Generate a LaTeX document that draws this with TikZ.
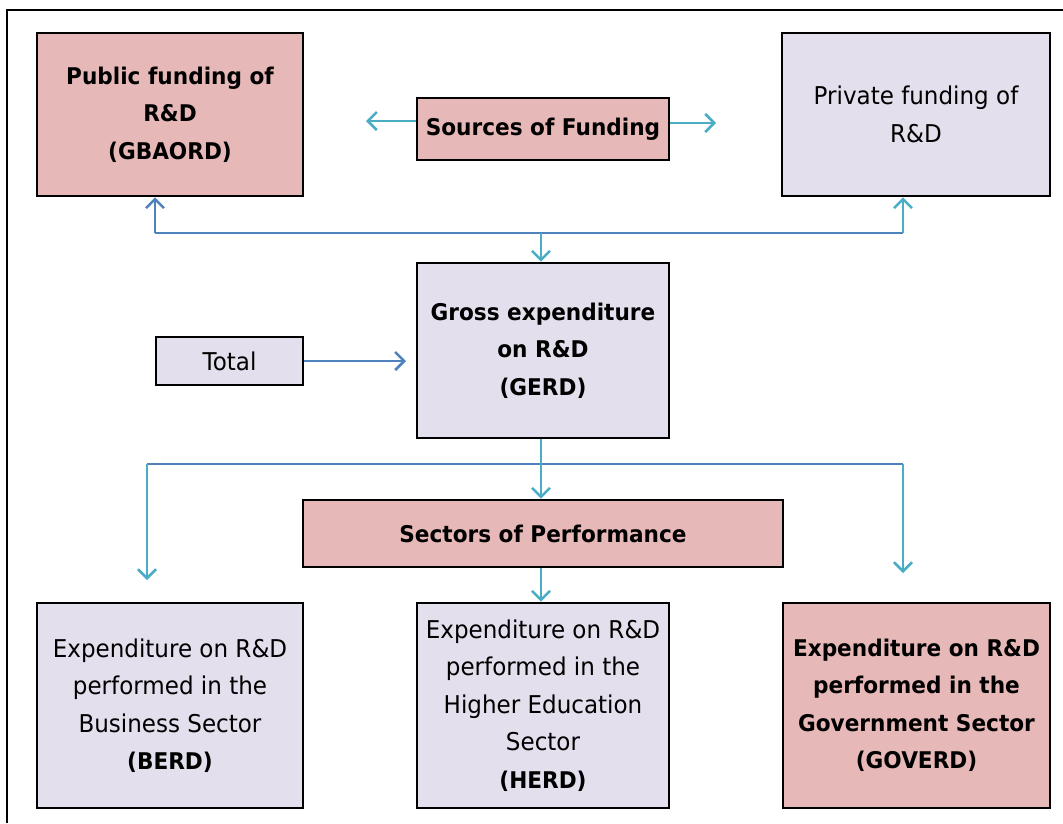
\documentclass[tikz,border=0pt]{standalone}
\usepackage{fontspec}
\setmainfont[FakeStretch=0.94]{DejaVu Sans}
\usetikzlibrary{arrows.meta}
\definecolor{pinkfill}{HTML}{E6B8B7}
\definecolor{lavfill}{HTML}{E4DFEC}
\definecolor{arrowteal}{HTML}{4BACC6}
\definecolor{lineblue}{HTML}{4F81BD}
\begin{document}
\begin{tikzpicture}[x=1pt,y=-1pt,
  box/.style={draw=black, line width=2.6pt, align=center, inner sep=0pt,
              font=\fontsize{24.5}{37.5}\selectfont},
  boldbox/.style={box, font=\fontsize{23}{37.5}\selectfont\bfseries},
  pinkfl/.style={fill=pinkfill},
  lavfl/.style={fill=lavfill},
  conn/.style={line width=2.6pt, draw=arrowteal, -{Straight Barb[length=9pt,width=18pt]}},
  bconn/.style={line width=2.6pt, draw=lineblue, -{Straight Barb[length=9pt,width=18pt]}},
  bline/.style={line width=2.8pt, draw=lineblue}]
\useasboundingbox (0,0) rectangle (1063,823);
\draw[line width=2.6pt] (7,823) -- (7,10) -- (1063,10);

\node[boldbox, pinkfl, minimum width=266pt, minimum height=163pt] (pub) at (170,114.5)
  {Public funding of\\R\&D\\(GBAORD)};
\node[boldbox, pinkfl, minimum width=252pt, minimum height=62pt] (src) at (543,129)
  {Sources of Funding};
\node[box, lavfl, minimum width=268pt, minimum height=163pt] (priv) at (916,114.5)
  {Private funding of\\R\&D};
\node[boldbox, lavfl, minimum width=252pt, minimum height=175pt] (gerd) at (543,350.5)
  {Gross expenditure\\on R\&D\\(GERD)};
\node[box, lavfl, minimum width=147pt, minimum height=48pt] (total) at (229.5,361)
  {Total};
\node[boldbox, pinkfl, minimum width=480pt, minimum height=67pt] (sect) at (543,533.5)
  {Sectors of Performance};
\node[box, lavfl, minimum width=266pt, minimum height=205pt] (berd) at (170,705.5)
  {Expenditure on R\&D\\performed in the\\Business Sector\\{\fontsize{23}{37.5}\selectfont\bfseries (BERD)}};
\node[box, lavfl, minimum width=252pt, minimum height=205pt] (herd) at (543,705.5)
  {Expenditure on R\&D\\performed in the\\Higher Education\\Sector\\{\fontsize{23}{37.5}\selectfont\bfseries (HERD)}};
\node[boldbox, pinkfl, minimum width=267pt, minimum height=205pt] (gov) at (916.5,705.5)
  {Expenditure on R\&D\\performed in the\\Government Sector\\(GOVERD)};

% sources arrows
\coordinate (srcL) at (366,121);
\coordinate (srcR) at (716,123);
\draw[conn] (srcL -| src.west) -- (srcL);
\draw[conn] (srcR -| src.east) -- (srcR);

% top junction
\coordinate (jL) at (155,233);
\coordinate (jR) at (903,233);
\coordinate (jM) at (541,233);
\draw[bline] (jL) -- (jR);
\draw[bconn] (jL) -- (jL |- pub.south);
\draw[conn] (jR) -- (jR |- priv.south);
\draw[conn] (jM) -- (jM |- gerd.north);

% total
\coordinate (totE) at (406,361);
\draw[bconn] (total.east) -- (totE);

% bottom junction
\coordinate (bL) at (147,464);
\coordinate (bR) at (903,464);
\coordinate (bLe) at (147,580);
\coordinate (bRe) at (903,573);
\draw[bline] (bL) -- (bR);
\draw[conn] (bL) -- (bLe);
\draw[conn] (bR) -- (bRe);
\draw[conn] (gerd.south -| jM) -- (sect.north -| jM);
\draw[conn] (sect.south -| jM) -- (herd.north -| jM);
\end{tikzpicture}
\end{document}
